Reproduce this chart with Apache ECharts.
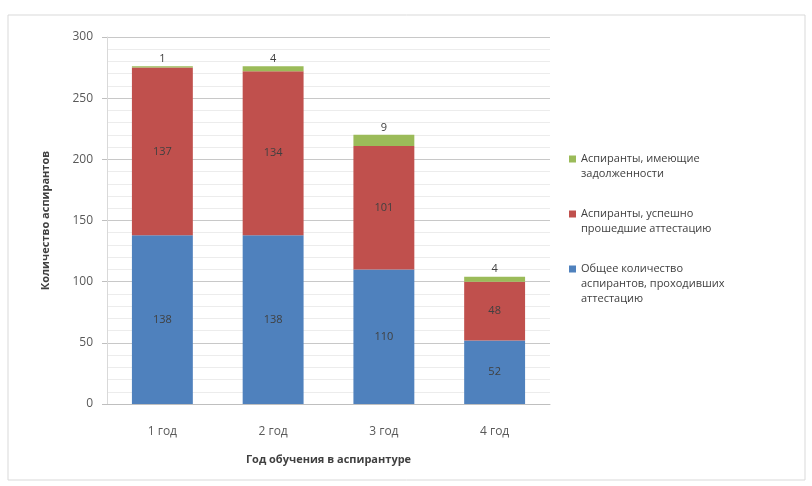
<!DOCTYPE html>
<html><head><meta charset="utf-8">
<script src="https://cdn.jsdelivr.net/npm/echarts@6/dist/echarts.min.js"></script>
<style>html,body{margin:0;padding:0;background:#fff}#c{width:812px;height:486px}</style>
</head><body><div id="c"></div>
<script>
var categories = ['1 год', '2 год', '3 год', '4 год'];
var seriesNames = ['Общее количество аспирантов, проходивших аттестацию', 'Аспиранты, успешно прошедшие аттестацию', 'Аспиранты, имеющие задолженности'];
var legendLabels = ['Общее количество\nаспирантов, проходивших\nаттестацию', 'Аспиранты, успешно\nпрошедшие аттестацию', 'Аспиранты, имеющие\nзадолженности'];
var totalValues = [138, 138, 110, 52];
var passedValues = [137, 134, 101, 48];
var debtValues = [1, 4, 9, 4];
var colors = ['#4f81bd', '#c0504d', '#9bbb59'];

var chart = echarts.init(document.getElementById('c'));
var font = 'Open Sans, Liberation Sans, sans-serif';
var LH = 15;
function mk(i, data, pos) {
  return {
    name: seriesNames[i], type: 'bar', stack: 's', data: data, barWidth: '55%',
    itemStyle: {color: colors[i]},
    label: {show: true, position: pos, color: '#404040', fontSize: 11, fontFamily: font, distance: 2}
  };
}
function lg(i, firstLineY) {
  var lines = legendLabels[i].split('\n').length;
  var blank = new Array(lines).join('\n'); // lines-1 blank lines so the marker sits level with the first line
  var total = 2 * lines - 1;
  return {
    orient: 'vertical', left: 564, top: firstLineY - total * LH / 2,
    itemWidth: 7, itemHeight: 7, icon: 'rect',
    data: [seriesNames[i]],
    formatter: function () { return blank + legendLabels[i]; },
    textStyle: {color: '#404040', fontSize: 11, lineHeight: LH, fontFamily: font}
  };
}
chart.setOption({
  animation: false,
  textStyle: {fontFamily: font},
  graphic: [{type: 'rect', shape: {x: 8, y: 15, width: 797, height: 465}, style: {fill: 'none', stroke: '#d9d9d9', lineWidth: 1}}],
  grid: {left: 107, right: 262, top: 37, bottom: 82},
  legend: [lg(2, 154), lg(1, 209), lg(0, 264)],
  xAxis: {
    type: 'category', data: categories,
    name: 'Год обучения в аспирантуре', nameLocation: 'middle', nameGap: 50,
    nameTextStyle: {fontWeight: 'bold', fontSize: 11, color: '#404040'},
    axisLine: {lineStyle: {color: '#bfbfbf'}}, axisTick: {show: false},
    axisLabel: {color: '#595959', fontSize: 12, margin: 22}
  },
  yAxis: {
    type: 'value', min: 0, max: 300, interval: 50,
    name: 'Количество аспирантов', nameLocation: 'middle', nameGap: 56,
    nameTextStyle: {fontWeight: 'bold', fontSize: 11, color: '#404040'},
    axisLine: {show: true, lineStyle: {color: '#d9d9d9'}},
    axisTick: {show: true, length: 5, lineStyle: {color: '#bfbfbf'}},
    axisLabel: {color: '#595959', fontSize: 12, margin: 14},
    splitLine: {lineStyle: {color: '#c8c8c8'}},
    minorTick: {show: false, splitNumber: 5},
    minorSplitLine: {show: true, lineStyle: {color: '#ececec'}}
  },
  series: [mk(0, totalValues, 'inside'), mk(1, passedValues, 'inside'), mk(2, debtValues, 'top')]
});
</script></body></html>
